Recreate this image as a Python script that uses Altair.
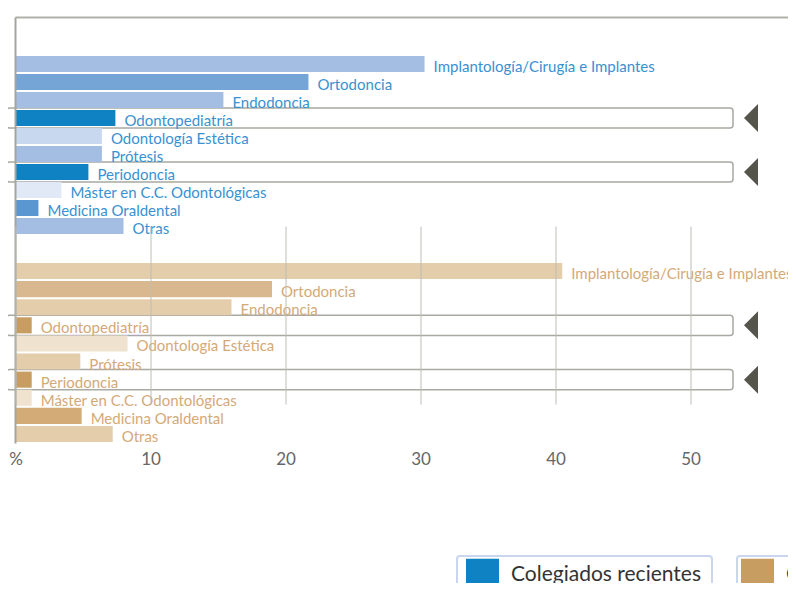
import altair as alt
import pandas as pd

# ---- data ----
categorias = [
    "Implantología/Cirugía e Implantes",
    "Ortodoncia",
    "Endodoncia",
    "Odontopediatría",
    "Odontología Estética",
    "Prótesis",
    "Periodoncia",
    "Máster en C.C. Odontológicas",
    "Medicina Oraldental",
    "Otras",
]
recientes = [30.3, 21.7, 15.4, 7.4, 6.4, 6.4, 5.4, 3.4, 1.7, 8.0]
anteriores = [40.5, 19.0, 16.0, 1.2, 8.3, 4.8, 1.2, 1.2, 4.9, 7.2]
destacadas = ["Odontopediatría", "Periodoncia"]
series = ["Colegiados recientes|2006-2012", "Colegiados anteriores|1985-2005"]
x_ticks = [0, 10, 20, 30, 40, 50]

# ---- styles ----
blue_shades = ["#a3bde3", "#75a4d6", "#a3bde3", "#0f82c3", "#c8d8ef",
               "#a3bde3", "#0f82c3", "#e1e9f6", "#5a96cf", "#a3bde3"]
tan_shades = ["#e4cdab", "#d9b890", "#e4cdab", "#c89d62", "#efe2cf",
              "#e4cdab", "#c89d62", "#efe2cf", "#d2ab77", "#e4cdab"]
W, H = 772.5, 425
PX = 13.5
FONT = "Lato"

x_enc = alt.X(
    "val:Q",
    scale=alt.Scale(domain=[0, W / PX], nice=False, zero=False),
    axis=alt.Axis(
        values=x_ticks, grid=True, gridColor="#bdbdb6", gridWidth=1,
        domain=False, ticks=False, labelFontSize=17, labelColor="#666666",
        labelFont=FONT, labelPadding=9, title=None, zindex=1, labelFlush=False,
        labelExpr="datum.value == 0 ? '%' : datum.label",
    ),
)


def group(values, shades, text_color, y_range):
    df = pd.DataFrame({"cat": categorias, "val": values})
    base = alt.Chart(df)
    y_enc = alt.Y(
        "cat:N",
        sort=categorias,
        scale=alt.Scale(domain=categorias, range=y_range, paddingInner=0.11, paddingOuter=0),
        axis=None,
    )
    boxes = base.transform_filter(
        alt.FieldOneOfPredicate(field="cat", oneOf=destacadas)
    ).mark_bar(
        height={"band": 1.25}, cornerRadius=3, fillOpacity=0,
        stroke="#a9a9a2", strokeWidth=1.5,
    ).encode(x=alt.value(-9), x2=alt.value(717.5), y=y_enc)
    bars = base.mark_bar(height={"band": 1}).encode(
        x=x_enc,
        y=y_enc,
        color=alt.Color("cat:N", scale=alt.Scale(domain=categorias, range=shades), legend=None),
    )
    labels = base.mark_text(
        align="left", baseline="middle", dx=9, dy=3, fontSize=15,
        font=FONT, color=text_color,
    ).encode(x=x_enc, y=y_enc, text="cat:N")
    arrows = base.transform_filter(
        alt.FieldOneOfPredicate(field="cat", oneOf=destacadas)
    ).mark_point(
        shape="M0.5,-1L-0.5,0L0.5,1Z", size=784, filled=True,
        color="#56554c", opacity=1,
    ).encode(x=alt.value(735.5), y=y_enc)
    return alt.layer(boxes, bars, labels, arrows)


blue = group(recientes, blue_shades, "#3991d1", [38.5, 216.5])
tan = group(anteriores, tan_shades, "#d4a978", [245.5, 424.5])

one = pd.DataFrame({"k": [0]})
top_rule = alt.Chart(one).mark_rule(color="#b0b0a8", strokeWidth=2).encode(
    x=alt.value(0), x2=alt.value(W), y=alt.value(0))
left_rule = alt.Chart(one).mark_rule(color="#a5a59f", strokeWidth=2).encode(
    x=alt.value(0), y=alt.value(0), y2=alt.value(H + 1))

frame1 = alt.Chart(one).mark_rect(
    fill="white", stroke="#c9d6ee", strokeWidth=2, cornerRadius=3
).encode(x=alt.value(441.5), x2=alt.value(696.5), y=alt.value(538.5), y2=alt.value(620))
frame2 = alt.Chart(one).mark_rect(
    fill="white", stroke="#c9d6ee", strokeWidth=2, cornerRadius=3
).encode(x=alt.value(721.5), x2=alt.value(830), y=alt.value(538.5), y2=alt.value(620))

legend_layer = alt.Chart(pd.DataFrame({"serie": series})).mark_square(size=0, opacity=0).encode(
    x=alt.value(0), y=alt.value(0),
    color=alt.Color(
        "serie:N",
        scale=alt.Scale(domain=series, range=["#0f82c3", "#c89d62"]),
        legend=alt.Legend(
            orient="none", legendX=450.5, legendY=541, direction="horizontal",
            title=None, symbolType="square", symbolSize=1089, symbolOpacity=1,
            symbolStrokeWidth=0, labelFontSize=21, labelColor="#333333",
            labelFont=FONT, labelOffset=12, columnPadding=40, labelLimit=400,
            labelExpr="split(datum.label, '|')", padding=0,
        ),
    ),
)

chart = alt.layer(
    blue, tan, top_rule, left_rule, frame1, frame2, legend_layer
).resolve_scale(y="independent", color="independent").properties(
    width=W, height=H,
    padding={"left": 7.5, "top": 9.5, "right": 0, "bottom": 140},
    autosize=alt.AutoSizeParams(type="none"),
).configure_view(stroke=None)

chart.save("out.html", embed_options={"renderer": "svg", "actions": False})
